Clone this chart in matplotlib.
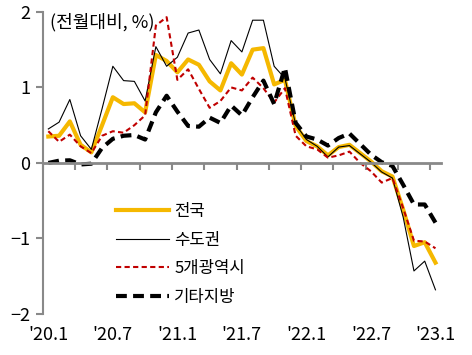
import numpy as np
import matplotlib
matplotlib.use("Agg")
import matplotlib.pyplot as plt

plt.rcParams['font.family'] = ['Noto Sans CJK KR', 'DejaVu Sans']

# monthly change (%), 2020.1 ~ 2023.1
months = ["'20.1", "'20.7", "'21.1", "'21.7", "'22.1", "'22.7", "'23.1"]

nation = [0.35, 0.36, 0.55, 0.24, 0.14, 0.50, 0.87, 0.78, 0.79, 0.67,
          1.43, 1.35, 1.20, 1.37, 1.30, 1.08, 0.96, 1.32, 1.17, 1.50,
          1.52, 1.04, 1.10, 0.49, 0.29, 0.22, 0.10, 0.21, 0.24, 0.13,
          0.02, -0.11, -0.18, -0.62, -1.10, -1.05, -1.32]
capital = [0.45, 0.54, 0.84, 0.36, 0.18, 0.72, 1.28, 1.09, 1.08, 0.82,
           1.54, 1.28, 1.40, 1.72, 1.76, 1.37, 1.18, 1.62, 1.47, 1.89,
           1.89, 1.28, 1.12, 0.51, 0.31, 0.22, 0.08, 0.21, 0.23, 0.12,
           0.01, -0.12, -0.20, -0.72, -1.43, -1.30, -1.68]
metro5 = [0.42, 0.28, 0.375, 0.22, 0.13, 0.36, 0.42, 0.40, 0.50, 0.63,
          1.82, 1.93, 1.10, 1.24, 0.98, 0.73, 0.82, 1.00, 0.96, 1.13,
          0.99, 0.80, 0.99, 0.36, 0.22, 0.18, 0.07, 0.10, 0.15, 0.00,
          -0.11, -0.26, -0.20, -0.60, -1.03, -1.04, -1.13]
others = [0.00, 0.03, 0.035, -0.02, -0.01, 0.20, 0.32, 0.36, 0.37, 0.31,
          0.67, 0.89, 0.68, 0.49, 0.48, 0.60, 0.53, 0.76, 0.63, 0.87,
          1.09, 0.78, 1.26, 0.53, 0.35, 0.31, 0.23, 0.33, 0.39, 0.25,
          0.11, 0.01, -0.04, -0.29, -0.55, -0.55, -0.79]

n = len(nation)
x = np.arange(n) + 0.5
gray = '#898989'

fig = plt.figure(figsize=(4.72, 3.55), dpi=100)
ax = fig.add_axes([0.091, 0.1155, 0.843, 0.851])

ax.plot(x, nation, color='#F5B800', lw=3, label='전국')
ax.plot(x, capital, color='black', lw=0.8, label='수도권')
ax.plot(x, metro5, color='#C00000', lw=1.5, dashes=(2.5, 1.6), label='5개광역시')
ax.plot(x, others, color='black', lw=3, dashes=(2.6, 1.5), label='기타지방')

ax.set_xlim(0, n)
ax.set_ylim(-2, 2)
ax.set_yticks([-2, -1, 0, 1, 2])
ax.set_yticklabels(['\u22122', '\u22121', '0', '1', '2'])

for s in ['top', 'right']:
    ax.spines[s].set_visible(False)
ax.spines['left'].set_color(gray)
ax.spines['left'].set_linewidth(1.5)
ax.tick_params(axis='y', direction='out', length=5, width=1.5, color=gray,
               labelsize=13, pad=4)

# zero line with tick marks between categories
ax.spines['bottom'].set_position(('data', 0))
ax.spines['bottom'].set_color(gray)
ax.spines['bottom'].set_linewidth(2)
ax.set_xticks(np.arange(0, n, 3))
ax.tick_params(axis='x', direction='out', length=5, width=1.5, color=gray,
               labelbottom=False)

# category labels at the bottom
lab = ax.secondary_xaxis('bottom')
lab.set_xticks(x[::6])
lab.set_xticklabels(months)
lab.tick_params(axis='x', length=0, labelsize=13, pad=9)
lab.spines['bottom'].set_visible(False)

ax.text(0.018, 0.995, '(전월대비, %)', transform=ax.transAxes,
        ha='left', va='top', fontsize=13)

ax.legend(loc='upper left', bbox_to_anchor=(0.167, 0.39), frameon=False,
          fontsize=12, handlelength=3.2, handletextpad=0.3,
          labelspacing=0.7, borderaxespad=0)

fig.savefig('out.png', dpi=100)
